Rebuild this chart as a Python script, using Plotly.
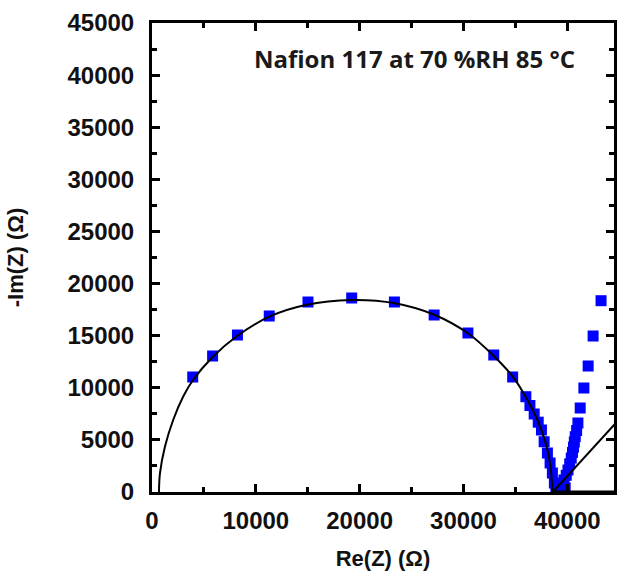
import plotly.graph_objects as go

# Measured data (blue squares): Re(Z), -Im(Z)
re_z = [3923, 5837, 8230, 11292, 15024, 19234, 23349, 27177, 30430, 32919, 34737,
        36010, 36400, 36813, 37200, 37512, 37770, 38086, 38344, 38565, 38756, 38900, 39043,
        39200, 39500, 39684, 39800, 39900, 40067, 40230, 40383, 40500, 40600, 40680, 40766,
        40900, 41024, 41244, 41598, 42010, 42488, 43254]
im_z = [11034, 13049, 15064, 16887, 18230, 18614, 18230, 16983, 15256, 13145, 11034,
        9144, 8300, 7484, 6700, 5949, 4826, 3742, 2783, 1823, 864, 300, 384,
        200, 250, 1151, 400, 1600, 2111, 2700, 3262, 3800, 4300, 4800, 5306,
        5900, 6621, 8060, 9979, 12090, 14968, 18355]

# Fit curve
fit_re = [670, 766, 1244, 2038, 2995, 3952, 5866, 8105, 11292, 14804, 19263, 23416,
          27244, 30431, 32919, 34804, 36172, 37129, 37923, 38344, 38565, 38612]
fit_im = [0, 1794, 4347, 6908, 9144, 10746, 12982, 14901, 16820, 17943, 18422, 18106,
          16983, 15227, 13049, 11006, 8827, 6908, 4673, 2754, 355, 0]

# Diffusion tail line
tail_re = [38612, 45000]
tail_im = [0, 6975]
base_re = [38612, 45000]
base_im = [0, 0]

annotation_text = "Nafion 117 at 70 %RH 85 °C"

fig = go.Figure()
fig.add_trace(go.Scatter(x=re_z, y=im_z, mode="markers",
                         marker=dict(symbol="square", size=11, color="#0000FF"),
                         showlegend=False))
fig.add_trace(go.Scatter(x=fit_re, y=fit_im, mode="lines", line_shape="spline",
                         line=dict(color="black", width=2), showlegend=False))
fig.add_trace(go.Scatter(x=tail_re, y=tail_im, mode="lines",
                         line=dict(color="black", width=2), showlegend=False))
fig.add_trace(go.Scatter(x=base_re, y=base_im, mode="lines",
                         line=dict(color="black", width=3), showlegend=False))

tickfont = dict(family="Liberation Sans, Arial, sans-serif", size=24, color="#111111", weight="bold")
titlefont = dict(family="Liberation Sans, Arial, sans-serif", size=22, color="#111111", weight="bold")

fig.update_xaxes(range=[0, 44500], tickmode="linear", tick0=0, dtick=10000, tickformat="d",
                 ticks="inside", ticklen=8, tickwidth=2.5, tickcolor="black",
                 minor=dict(ticks="inside", dtick=5000, ticklen=5, tickwidth=2.5, tickcolor="black"),
                 showline=True, linewidth=3, linecolor="black", mirror="ticks",
                 showgrid=False, zeroline=False, tickfont=tickfont,
                 ticklabelstandoff=5,
                 title=dict(text="Re(Z) (Ω)", font=titlefont, standoff=18))
fig.update_yaxes(range=[0, 45000], tickmode="linear", tick0=0, dtick=5000, tickformat="d",
                 ticks="inside", ticklen=8, tickwidth=2.5, tickcolor="black",
                 minor=dict(ticks="inside", dtick=2500, ticklen=5, tickwidth=2.5, tickcolor="black"),
                 showline=True, linewidth=3, linecolor="black", mirror="ticks",
                 showgrid=False, zeroline=False, tickfont=tickfont,
                 ticklabelstandoff=10,
                 title=dict(text="-Im(Z) (Ω)", font=titlefont, standoff=38))

fig.add_annotation(x=0.568, y=0.925, xref="paper", yref="paper",
                   xanchor="center", yanchor="middle",
                   text=annotation_text, showarrow=False,
                   font=dict(family="Open Sans, sans-serif", size=24, color="#1a1a1a", weight="bold"))

fig.update_layout(width=618, height=571, margin=dict(l=152, r=1, t=23, b=79),
                  paper_bgcolor="white", plot_bgcolor="white",
                  font=dict(family="Liberation Sans, Arial, sans-serif"))

fig.write_html("out.html")
